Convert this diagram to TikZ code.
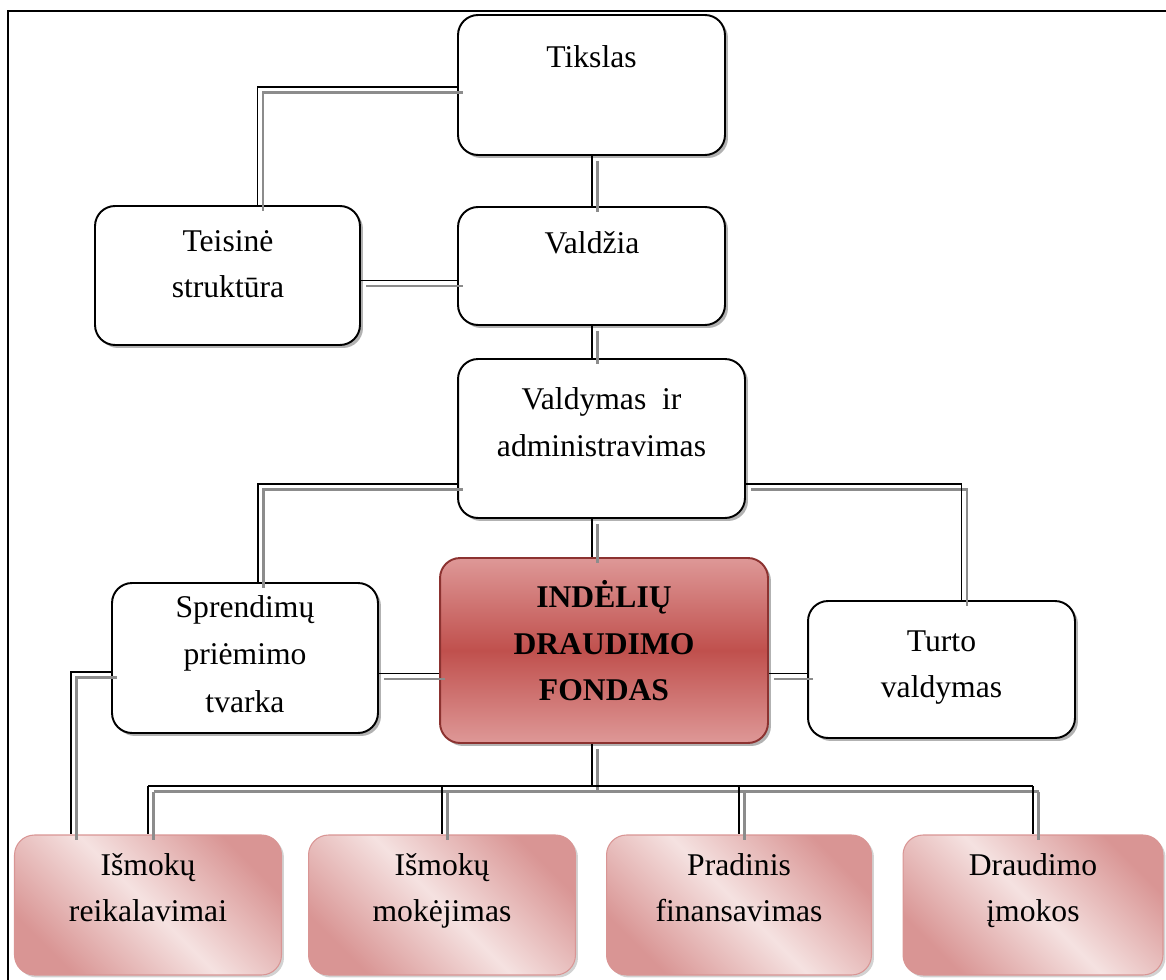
\documentclass[tikz,border=0pt]{standalone}
\usepackage{fontspec}
\setmainfont{Liberation Serif}
\usetikzlibrary{positioning,shadows,calc}

\definecolor{fondtop}{RGB}{222,152,151}
\definecolor{fondmid}{RGB}{192,80,77}
\definecolor{fondline}{RGB}{140,50,48}
\definecolor{pinkdark}{RGB}{217,149,148}
\definecolor{pinklight}{RGB}{245,226,225}

\tikzset{
  box/.style={draw=black, line width=1.1pt, rounded corners=0.4cm, fill=white,
    drop shadow={shadow xshift=0.06cm, shadow yshift=-0.06cm, fill=black!60}},
  fund/.style={box, draw=fondline, top color=fondtop, bottom color=fondtop, middle color=fondmid},
  leaf/.style={draw=pinkdark, line width=0.6pt, rounded corners=0.4cm,
    top color=pinkdark, bottom color=pinkdark, middle color=pinklight, shading angle=-45,
    drop shadow={shadow xshift=0.05cm, shadow yshift=-0.05cm, fill=black!35}},
  txt/.style={align=center, inner sep=0pt, anchor=north, font=\fontsize{18}{26.5}\selectfont,
    execute at begin node=\strut},
  link/.style={draw=black, line width=1pt,
    preaction={draw=black!45, line width=1.2pt, transform canvas={shift={(0.11cm,-0.11cm)}}}},
}

\begin{document}
\begin{tikzpicture}[x=0.02cm, y=-0.02cm]
\useasboundingbox (0,0) rectangle (1166,980);
% frame
\draw[line width=1.1pt] (8,980) -- (8,11) -- (1166,11);

% boxes
\node[box, minimum width=5.34cm, minimum height=2.8cm] (tikslas) at (591.5,85) {};
\node[box, minimum width=5.3cm, minimum height=2.78cm] (teisine) at (227.5,275.5) {};
\node[box, minimum width=5.34cm, minimum height=2.36cm] (valdzia) at (591.5,266) {};
\node[box, minimum width=5.74cm, minimum height=3.18cm] (valdymas) at (601.5,438.5) {};
\node[box, minimum width=5.32cm, minimum height=3cm] (sprendimai) at (245,658) {};
\node[fund, minimum width=6.56cm, minimum height=3.7cm] (fondas) at (604,650.5) {};
\node[box, minimum width=5.34cm, minimum height=2.74cm] (turtas) at (941.5,669.5) {};
\node[leaf, minimum width=5.34cm, minimum height=2.8cm] (ireikal) at (148,905) {};
\node[leaf, minimum width=5.34cm, minimum height=2.8cm] (imokej) at (442,905) {};
\node[leaf, minimum width=5.3cm, minimum height=2.8cm] (pradfin) at (739,905) {};
\node[leaf, minimum width=5.2cm, minimum height=2.8cm] (drimok) at (1033,905) {};

% texts
\node[txt] (tikslasT) at (591.5,35) {Tikslas};
\node[txt] (teisineT) at (228,230) {Teisinė\\struktūra};
\node[txt] (valdziaT) at (592,221) {Valdžia};
\node[txt, font=\fontsize{18}{27}\selectfont] (valdymasT) at (601.5,387) {Valdymas~~ir\\administravimas};
\node[txt, font=\fontsize{18}{27}\selectfont] (sprendimaiT) at (245,595) {Sprendimų\\priėmimo\\tvarka};
\node[txt, font=\fontsize{18}{26.5}\selectfont\bfseries] (fondasT) at (604,580) {INDĖLIŲ\\DRAUDIMO\\FONDAS};
\node[txt] (turtasT) at (941.5,630) {Turto\\valdymas};
\node[txt] (ireikalT) at (148,853) {Išmokų\\reikalavimai};
\node[txt] (imokejT) at (442,853) {Išmokų\\mokėjimas};
\node[txt] (pradfinT) at (739,853) {Pradinis\\finansavimas};
\node[txt] (drimokT) at (1033,853) {Draudimo\\įmokos};

% connectors
\coordinate (spine) at (592,786);
\coordinate (vl) at ([yshift=0.7cm]valdymas.south west);
\coordinate (vr) at ([yshift=0.7cm]valdymas.south east);
\coordinate (fl) at ([yshift=-0.46cm]fondas.west);
\coordinate (fr) at ([yshift=-0.46cm]fondas.east);
\draw[link] ([yshift=-0.04cm]tikslas.west) -| ([xshift=0.6cm]teisine.north);
\draw[link] (spine |- tikslas.south) -- (spine |- valdzia.north);
\draw[link] ([yshift=-0.1cm]teisine.east) -- ([yshift=-0.1cm]teisine.east -| valdzia.west);
\draw[link] (spine |- valdzia.south) -- (spine |- valdymas.north);
\draw[link] (vl) -| ([xshift=0.26cm]sprendimai.north);
\draw[link] (vr) -| ([xshift=0.4cm]turtas.north);
\draw[link] (spine |- valdymas.south) -- (spine |- fondas.north);
\draw[link] (fl) -- (fl -| sprendimai.east);
\draw[link] (fr) -- (fr -| turtas.west);
\draw[link] ([yshift=-0.28cm]sprendimai.west) -| ([xshift=-1.54cm]ireikal.north);
\draw[link] (spine |- fondas.south) -- (spine);
\draw[link] (spine -| ireikal.north) -- (spine -| drimok.north);
\foreach \n in {ireikal,imokej,pradfin,drimok}
  \draw[link] (spine -| \n.north) -- (\n.north);
\end{tikzpicture}
\end{document}
